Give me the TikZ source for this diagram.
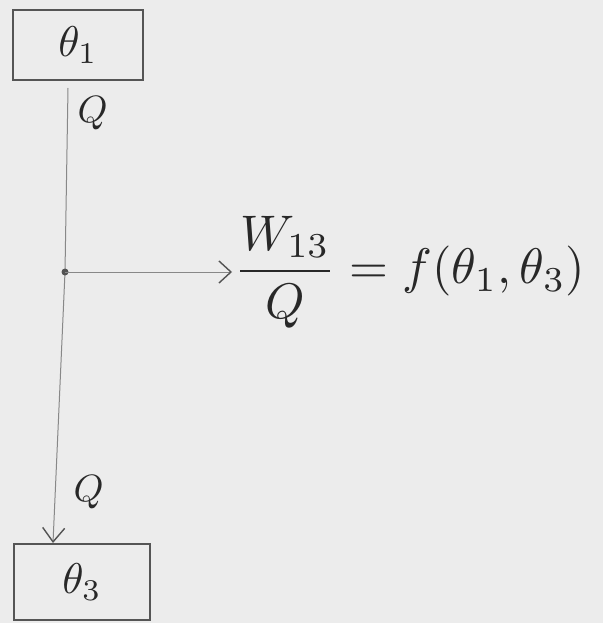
\documentclass[tikz,border=0pt]{standalone}
\usepackage{amsmath, amssymb}
\usetikzlibrary{arrows.meta, positioning}
\definecolor{paper}{RGB}{236, 236, 236}
\definecolor{pencil}{RGB}{85, 85, 85}
\definecolor{ink}{RGB}{40, 40, 40}

\begin{document}
\begin{tikzpicture}[x=1pt, y=-1pt,
    tbox/.style={draw=pencil, line width=2.6pt, minimum width=130pt, minimum height=70pt, text=ink},
    flow/.style={draw=pencil!70, line width=1pt},
    qlab/.style={text=ink}]
    \fill[paper] (0,0) rectangle (603,623);
    \useasboundingbox (0,0) rectangle (603,623);
    % reservoirs
    \node[tbox] (t1) at (78,45) {\scalebox{4.3}{$\theta_1$}};
    \node[tbox, minimum width=136pt, minimum height=76pt] (t3) at (82,582) {\scalebox{4.3}{$\theta_3$}};
    % heat flow line
    \coordinate (top) at (68,88);
    \coordinate (j) at (65,272);
    \coordinate (bot) at (53,543);
    \draw[flow] (top) -- (j);
    \draw[flow, -{Straight Barb[length=14pt, width=22pt, line width=1.4pt, color=ink!80]}] (j) -- (bot);
    \fill[ink!80] (j) circle (3.5pt);
    \node[qlab, anchor=west] (q1) at (74,113) {\scalebox{3.8}{$Q$}};
    \node[qlab, anchor=west] (q3) at (70,492) {\scalebox{3.8}{$Q$}};
    % work output
    \node[anchor=west, text=ink, inner sep=2pt] (eq) at (232,272) {\scalebox{5}{$\dfrac{W_{13}}{Q} = f(\theta_1,\theta_3)$}};
    \draw[flow, -{Straight Barb[length=12pt, width=22pt, line width=1.4pt, color=ink!80]}] (j) -- (eq.west);
  \end{tikzpicture}
\end{document}
